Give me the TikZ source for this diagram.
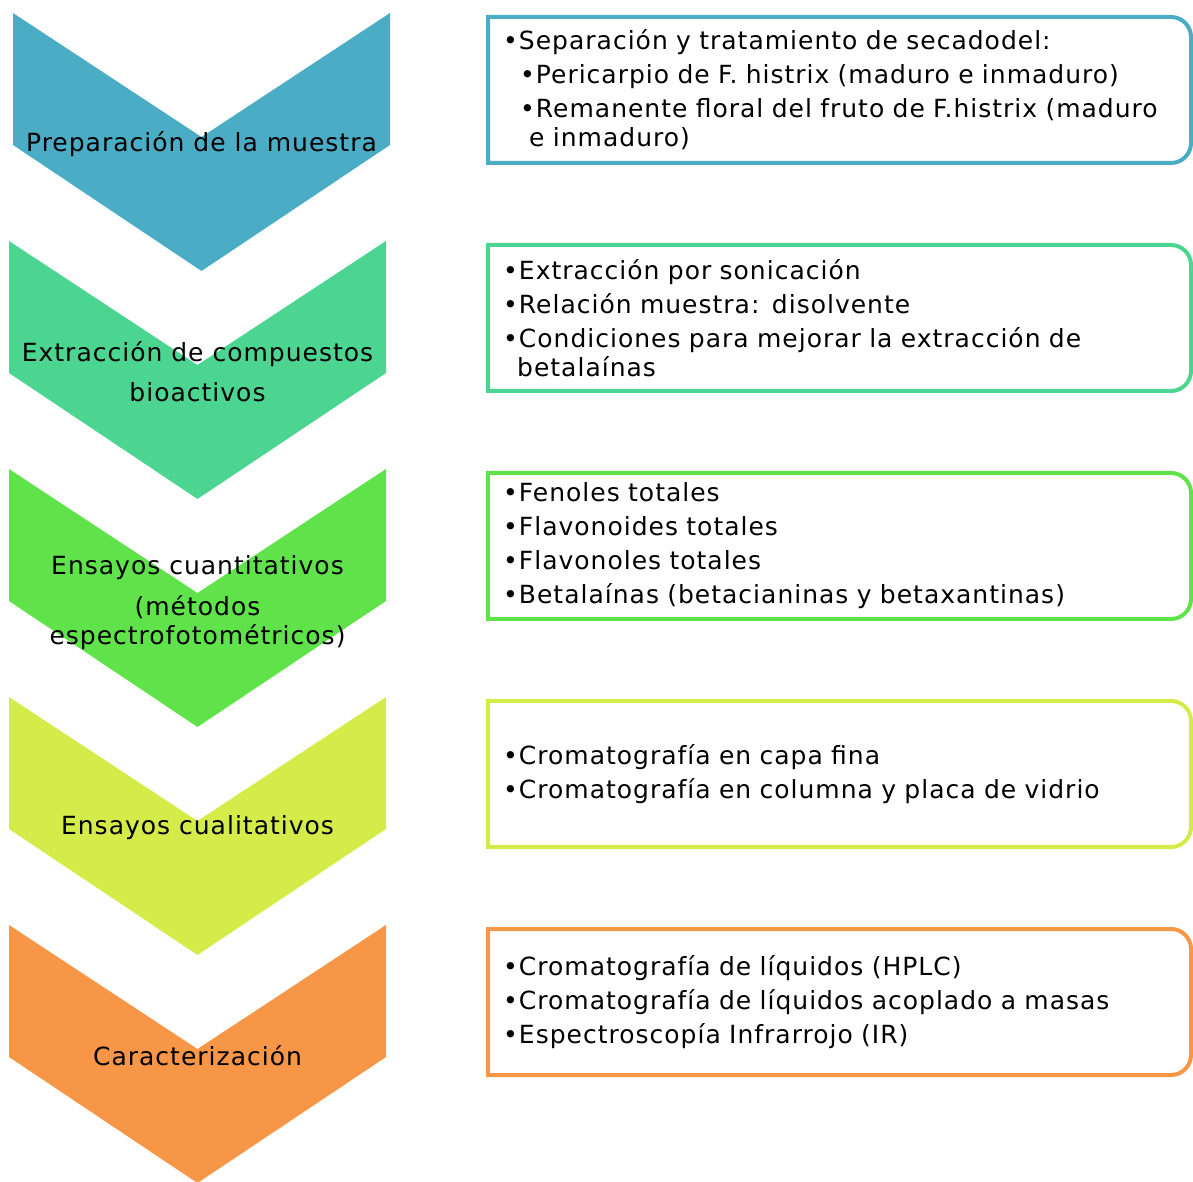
\documentclass[tikz,border=0pt]{standalone}
\usepackage{fontspec}
\setmainfont{DejaVu Sans}[LetterSpace=4]
\definecolor{prepblue}{HTML}{4BACC6}
\definecolor{extrteal}{HTML}{4BD591}
\definecolor{cuangreen}{HTML}{5FE24A}
\definecolor{cualyellow}{HTML}{D4EC4A}
\definecolor{caraorange}{HTML}{F79646}

\begin{document}
\begin{tikzpicture}[x=1pt,y=1pt,
  frame/.style={draw=#1,line width=4pt},
  steplabel/.style={font=\fontsize{25}{29}\selectfont,align=center,inner sep=0pt},
  itemlist/.style={font=\fontsize{25}{29}\selectfont,align=left,text width=685pt,inner sep=0pt,anchor=west}]
\useasboundingbox (0,0) rectangle (1193,1181);

% Preparacion de la muestra
\fill[prepblue] (13,1168)--(201.5,1044)--(390,1168)--(390,1036)--(201.5,910)--(13,1036)--cycle;
\node[steplabel] (prep) at (201.5,1037) {Preparación de la muestra};
\draw[frame=prepblue] (488,1164)--(1171,1164) arc[start angle=90,end angle=0,radius=20]
  --(1191,1038) arc[start angle=0,end angle=-90,radius=20]--(488,1018)--cycle;
\node[itemlist] (preplist) at (503,1091) {•Separación y tratamiento de secadodel:\\[5pt]
\hspace*{17pt}•Pericarpio de F. histrix (maduro e inmaduro)\\[5pt]
\hspace*{17pt}•Remanente floral del fruto de F.histrix (maduro\\
\hspace*{26pt}e inmaduro)};

% Extraccion
\fill[extrteal] (9,940)--(197.5,816)--(386,940)--(386,808)--(197.5,682)--(9,808)--cycle;
\node[steplabel] (extr) at (197.5,809) {Extracción de compuestos\\[11pt]bioactivos};
\draw[frame=extrteal] (488,936)--(1171,936) arc[start angle=90,end angle=0,radius=20]
  --(1191,810) arc[start angle=0,end angle=-90,radius=20]--(488,790)--cycle;
\node[itemlist] (extrlist) at (503,863) {•Extracción por sonicación\\[5pt]
•Relación muestra: disolvente\\[5pt]
•Condiciones para mejorar la extracción de\\
\hspace*{14pt}betalaínas};

% Ensayos cuantitativos
\fill[cuangreen] (9,712)--(197.5,588)--(386,712)--(386,580)--(197.5,454)--(9,580)--cycle;
\node[steplabel] (cuan) at (197.5,578) {Ensayos cuantitativos\\[12pt](métodos\\espectrofotométricos)};
\draw[frame=cuangreen] (488,708)--(1171,708) arc[start angle=90,end angle=0,radius=20]
  --(1191,582) arc[start angle=0,end angle=-90,radius=20]--(488,562)--cycle;
\node[itemlist] (cuanlist) at (503,635) {•Fenoles totales\\[5pt]
•Flavonoides totales\\[5pt]
•Flavonoles totales\\[5pt]
•Betalaínas (betacianinas y betaxantinas)};

% Ensayos cualitativos
\fill[cualyellow] (9,484)--(197.5,360)--(386,484)--(386,352)--(197.5,226)--(9,352)--cycle;
\node[steplabel] (cual) at (197.5,353) {Ensayos cualitativos};
\draw[frame=cualyellow] (488,480)--(1171,480) arc[start angle=90,end angle=0,radius=20]
  --(1191,354) arc[start angle=0,end angle=-90,radius=20]--(488,334)--cycle;
\node[itemlist] (cuallist) at (503,407) {•Cromatografía en capa fina\\[5pt]
•Cromatografía en columna y placa de vidrio};

% Caracterizacion
\fill[caraorange] (9,256)--(197.5,132)--(386,256)--(386,124)--(197.5,-2)--(9,124)--cycle;
\node[steplabel] (cara) at (197.5,125) {Caracterización};
\draw[frame=caraorange] (488,252)--(1171,252) arc[start angle=90,end angle=0,radius=20]
  --(1191,126) arc[start angle=0,end angle=-90,radius=20]--(488,106)--cycle;
\node[itemlist] (caralist) at (503,179) {•Cromatografía de líquidos (HPLC)\\[5pt]
•Cromatografía de líquidos acoplado a masas\\[5pt]
•Espectroscopía Infrarrojo (IR)};

\end{tikzpicture}
\end{document}
